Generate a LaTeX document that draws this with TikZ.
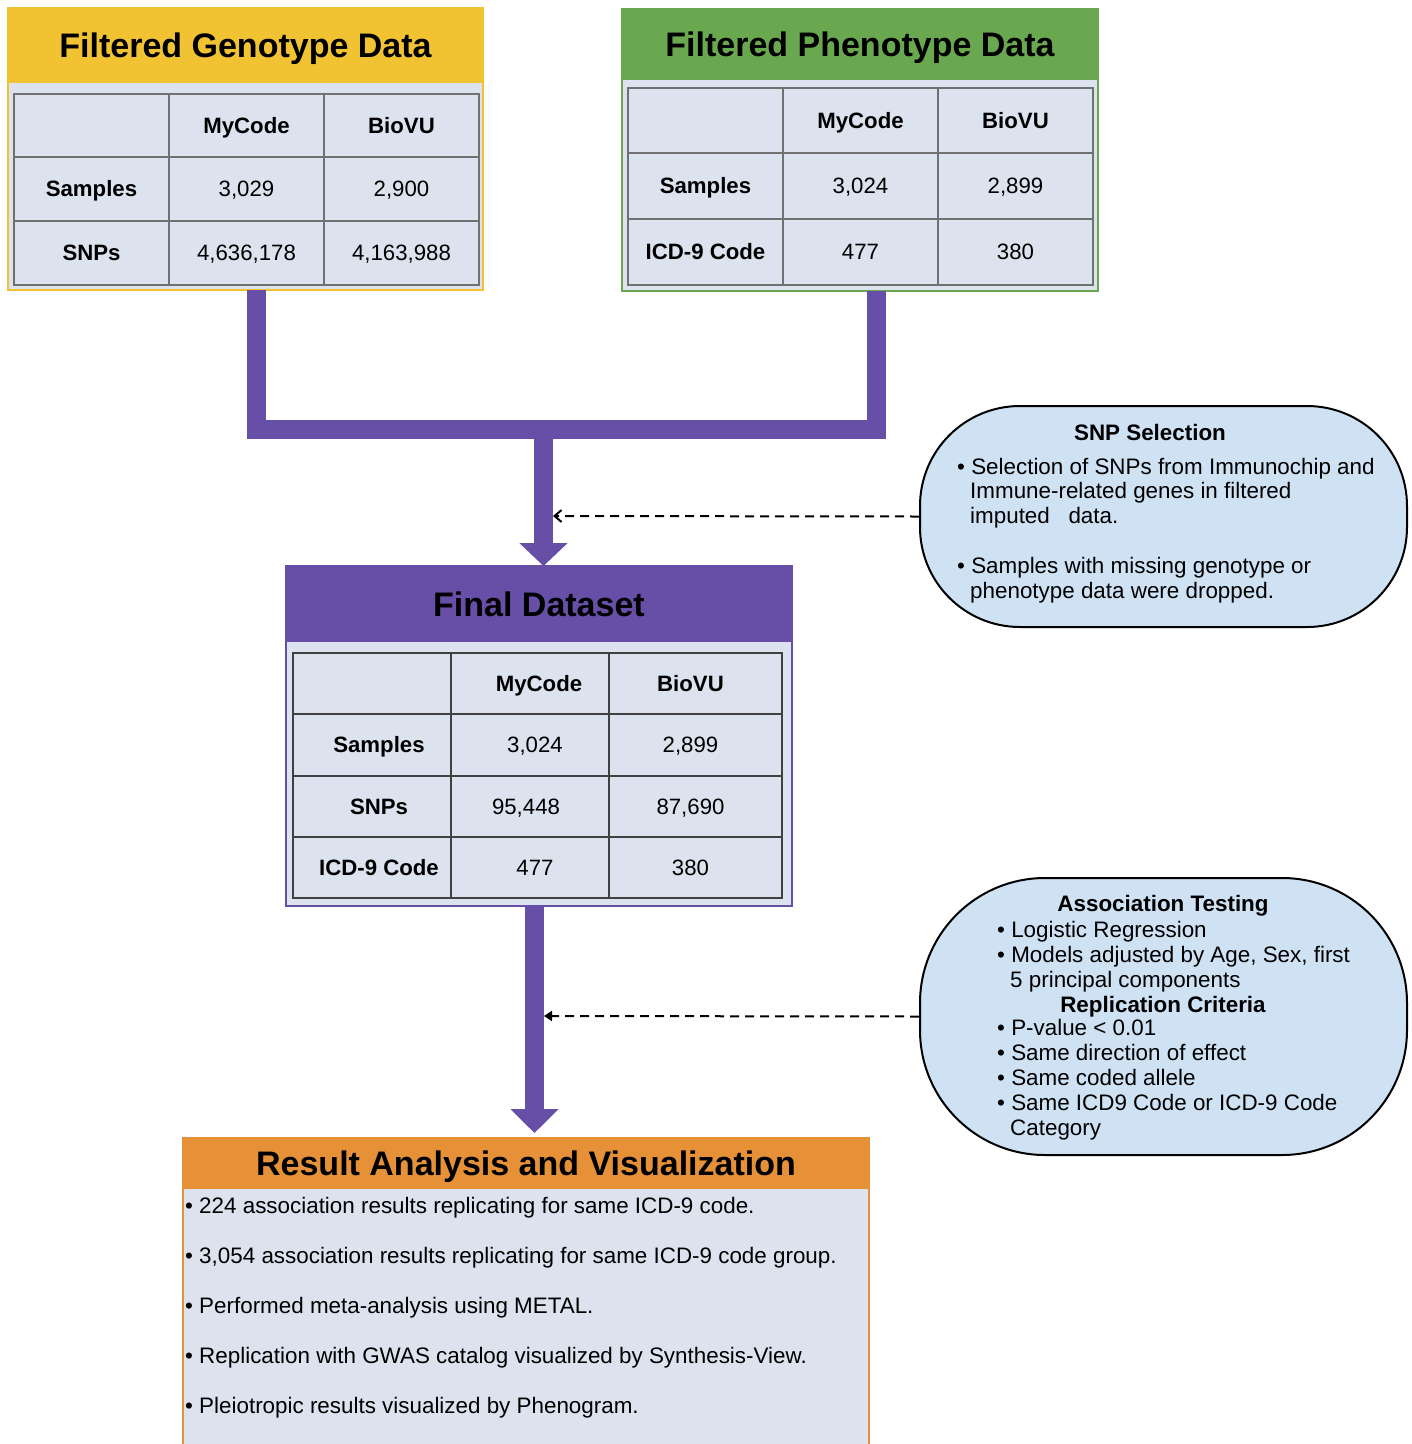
\documentclass[tikz,border=0pt]{standalone}
\usepackage{fontspec}
\setmainfont{Liberation Sans}
\usetikzlibrary{arrows.meta}
\definecolor{cyel}{HTML}{F1C232}
\definecolor{cgrn}{HTML}{6AA84F}
\definecolor{cpur}{HTML}{674EA7}
\definecolor{corg}{HTML}{E69138}
\definecolor{cfill}{HTML}{DCE3EE}
\definecolor{coval}{HTML}{CFE2F3}
\definecolor{cgrid}{HTML}{707070}
\definecolor{cgridd}{HTML}{404040}
% table row: name, ytop, ybottom, style of cols 2-3, texts
\newcommand{\trow}[7]{%
  \node[bcell, minimum width=\colB-\colA, minimum height=#3-#2] (#1a) at ({(\colA+\colB)/2},{(#2+#3)/2}) {#5};
  \node[#4, minimum width=\colC-\colB, minimum height=#3-#2] (#1b) at ({(\colB+\colC)/2},{(#2+#3)/2}) {#6};
  \node[#4, minimum width=\colD-\colC, minimum height=#3-#2] (#1c) at ({(\colC+\colD)/2},{(#2+#3)/2}) {#7};}
% shift a cell text by #1/2
\newcommand{\sh}[2]{\hspace*{#1}#2}
\begin{document}
\begin{tikzpicture}[x=1pt,y=-1pt,
  panel/.style={rectangle, draw, line width=2pt, fill=cfill, inner sep=0pt},
  head/.style={rectangle, inner sep=0pt, text height=24.3pt, text depth=0pt, font=\fontsize{34}{40}\selectfont\bfseries},
  cell/.style={rectangle, draw=\gridcol, line width=1.2pt, fill=cfill, inner sep=0pt, text height=15.75pt, text depth=0pt, font=\fontsize{22.2}{26}\selectfont},
  bcell/.style={cell, font=\fontsize{22.2}{26}\selectfont\bfseries},
  txt/.style={anchor=base west, inner sep=0pt, font=\fontsize{22.4}{26}\selectfont},
  btxt/.style={anchor=base, inner sep=0pt, font=\fontsize{22.4}{26}\selectfont\bfseries},
  oval/.style={rectangle, draw=black, line width=2pt, fill=coval, inner sep=0pt},
  pipe/.style={draw=cpur, line width=19pt, line join=miter},
  dashline/.style={draw=black, line width=2pt, dash pattern=on 9pt off 6pt}
]
\useasboundingbox (0,0) rectangle (1412,1444);
\def\gridcol{cgrid}

% ---------- Filtered Genotype Data ----------
\node[panel, draw=cyel, minimum width=475, minimum height=282] (gbox) at (245.5,149) {};
\node[head, fill=cyel, minimum width=475, minimum height=75] (ghead) at (245.5,45.5) {Filtered Genotype Data};
\def\colA{14}\def\colB{169}\def\colC{324}\def\colD{479}
\trow{g0}{94}{157}{bcell}{}{MyCode}{BioVU}
\trow{g1}{157}{221}{cell}{Samples}{3,029}{2,900}
\trow{g2}{221}{285}{cell}{SNPs}{4,636,178}{4,163,988}

% ---------- Filtered Phenotype Data ----------
\node[panel, draw=cgrn, minimum width=476, minimum height=282] (pbox) at (860,150) {};
\node[head, fill=cgrn, minimum width=476, minimum height=71] (phead) at (860,44.5) {Filtered Phenotype Data};
\def\colA{628}\def\colB{783}\def\colC{938}\def\colD{1093}
\trow{p0}{88}{153}{bcell}{}{MyCode}{BioVU}
\trow{p1}{153}{219}{cell}{Samples}{3,024}{2,899}
\trow{p2}{219}{285}{cell}{ICD-9 Code}{477}{380}

% ---------- Final Dataset ----------
\node[panel, draw=cpur, minimum width=506, minimum height=340] (fbox) at (539,736) {};
\node[head, fill=cpur, minimum width=506, minimum height=76] (fhead) at (539,604) {Final Dataset};
\def\gridcol{cgridd}
\def\colA{293}\def\colB{451}\def\colC{609}\def\colD{782}
\trow{f0}{653}{714}{bcell}{}{\sh{18pt}{MyCode}}{\sh{-10pt}{BioVU}}
\trow{f1}{714}{776}{cell}{\sh{14pt}{Samples}}{\sh{10pt}{3,024}}{\sh{-10pt}{2,899}}
\trow{f2}{776}{837}{cell}{\sh{14pt}{SNPs}}{\sh{-8pt}{95,448}}{\sh{-10pt}{87,690}}
\trow{f3}{837}{898}{cell}{\sh{14pt}{ICD-9 Code}}{\sh{10pt}{477}}{\sh{-10pt}{380}}

% ---------- Result Analysis and Visualization ----------
\node[panel, draw=corg, minimum width=686, minimum height=320] (rbox) at (526,1298) {};
\node[head, fill=corg, minimum width=686, minimum height=51] (rhead) at (526,1163.5) {Result Analysis and Visualization};
\node[txt] (r1) at (185,1213) {•\ 224 association results replicating for same ICD-9 code.};
\node[txt] (r2) at (185,1263) {•\ 3,054 association results replicating for same ICD-9 code group.};
\node[txt] (r3) at (185,1313) {•\ Performed meta-analysis using METAL.};
\node[txt] (r4) at (185,1363) {•\ Replication with GWAS catalog visualized by Synthesis-View.};
\node[txt] (r5) at (185,1413) {•\ Pleiotropic results visualized by Phenogram.};

% ---------- SNP Selection oval ----------
\node[oval, rounded corners=100pt, minimum width=487, minimum height=221] (snp) at (1163.5,516.5) {};
\node[btxt] (s0) at (1150,440) {SNP Selection};
\node[txt] (s1) at (957,474) {•\ Selection of SNPs from Immunochip and};
\node[txt] (s2) at (970,498) {Immune-related genes in filtered};
\node[txt] (s3) at (970,523) {imputed \ \ data.};
\node[txt] (s4) at (957,573) {•\ Samples with missing genotype or};
\node[txt] (s5) at (970,598) {phenotype data were dropped.};

% ---------- Association Testing oval ----------
\node[oval, rounded corners=125pt, minimum width=487, minimum height=277] (assoc) at (1163.5,1016.5) {};
\node[btxt] (a0) at (1163,911) {Association Testing};
\node[txt] (a1) at (997,937) {•\ Logistic Regression};
\node[txt] (a2) at (997,962) {•\ Models adjusted by Age, Sex, first};
\node[txt] (a3) at (1010,987) {5 principal components};
\node[btxt] (a4) at (1163,1012) {Replication Criteria};
\node[txt] (a5) at (997,1035) {•\ P-value < 0.01};
\node[txt] (a6) at (997,1060) {•\ Same direction of effect};
\node[txt] (a7) at (997,1085) {•\ Same coded allele};
\node[txt] (a8) at (997,1110) {•\ Same ICD9 Code or ICD-9 Code};
\node[txt] (a9) at (1010,1135) {Category};

% ---------- purple connectors ----------
\coordinate (gout) at (256.5,290);
\coordinate (pout) at (876.5,291);
\coordinate (merge) at (543.5,429);
\coordinate (fin) at (543.5,566);
\coordinate (fout) at (534.5,906);
\coordinate (rin) at (534.5,1133);
\draw[pipe] (gout) |- (merge) -| (pout);
\draw[pipe, -{Triangle[width=47pt,length=23pt]}] (merge) -- (fin);
\draw[pipe, -{Triangle[width=47pt,length=24pt]}] (fout) -- (rin);

% ---------- dashed arrows ----------
\coordinate (d1) at (553,516);
\coordinate (d2) at (544,1016);
\draw[dashline, -{Straight Barb[length=7pt,width=12pt]}] (snp.west) -- (d1);
\draw[dashline, -{Triangle[length=8pt,width=10pt]}] (assoc.west) -- (d2);
\end{tikzpicture}
\end{document}
